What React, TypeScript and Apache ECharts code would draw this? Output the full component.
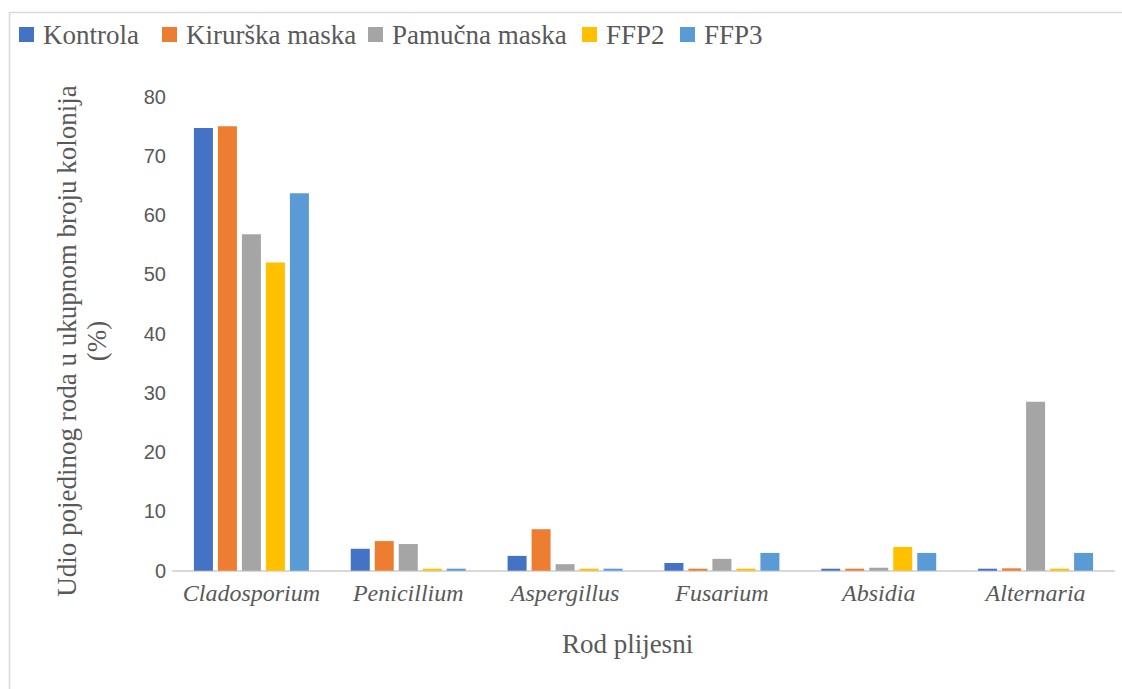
import React, { useEffect, useRef } from "react";
import * as echarts from "echarts";

const categories = ["Cladosporium", "Penicillium", "Aspergillus", "Fusarium", "Absidia", "Alternaria"];
const seriesNames = ["Kontrola", "Kirurška maska", "Pamučna maska", "FFP2", "FFP3"];
const kontrola = [74.7, 3.7, 2.5, 1.3, 0.2, 0.2];
const kirurska = [75.0, 5.0, 7.0, 0.3, 0.1, 0.4];
const pamucna = [56.8, 4.5, 1.1, 2.0, 0.5, 28.5];
const ffp2 = [52.0, 0, 0, 0, 4.0, 0];
const ffp3 = [63.7, 0, 0, 3.0, 3.0, 3.0];
const colors = ["#4472C4", "#ED7D31", "#A5A5A5", "#FFC000", "#5B9BD5"];
const yTicks = { min: 0, max: 80, interval: 10 };

const SERIF = "Liberation Serif, serif";
const SANS = "Liberation Sans";

// legend layout (marker left edges)
const legendX = [19, 162, 368, 582, 680];

export default function App() {
  const ref = useRef<HTMLDivElement>(null);
  useEffect(() => {
    if (!ref.current) return;
    const chart = echarts.init(ref.current, undefined, { renderer: "svg" });
    const values = [kontrola, kirurska, pamucna, ffp2, ffp3];
    const legendGraphics = seriesNames.map((name, i) => ({
      type: "group",
      x: legendX[i],
      y: 27,
      children: [
        { type: "rect", shape: { x: 0, y: 0, width: 15, height: 15 }, style: { fill: colors[i] } },
        {
          type: "text",
          x: 24,
          y: 8,
          style: {
            text: name,
            fontFamily: SERIF,
            fontSize: 27,
            fill: "#595959",
            align: "left",
            verticalAlign: "middle",
          },
        },
      ],
    }));
    chart.setOption({
      animation: false,
      backgroundColor: "#ffffff",
      color: colors,
      textStyle: { fontFamily: SERIF },
      legend: { show: false, data: seriesNames },
      grid: { left: 173, right: 8, top: 96.7, bottom: 118.3, containLabel: false },
      xAxis: {
        type: "category",
        data: categories,
        axisTick: { show: false },
        axisLine: { show: true, lineStyle: { color: "#d9d9d9", width: 2 } },
        axisLabel: {
          interval: 0,
          fontFamily: SERIF,
          fontStyle: "italic",
          fontSize: 24,
          lineHeight: 24,
          color: "#595959",
          margin: 10,
        },
      },
      yAxis: {
        type: "value",
        min: yTicks.min,
        max: yTicks.max,
        interval: yTicks.interval,
        splitLine: { show: false },
        axisLine: { show: false },
        axisTick: { show: false },
        axisLabel: { fontFamily: SANS, fontSize: 20, color: "#595959", margin: 7 },
      },
      series: seriesNames.map((name, i) => ({
        name,
        type: "bar",
        data: values[i],
        barWidth: 19,
        barGap: "26.3%",
        barMinHeight: 2,
        itemStyle: { color: colors[i] },
      })),
      graphic: [
        {
          type: "line",
          silent: true,
          shape: { x1: 9.5, y1: 12.5, x2: 1122, y2: 12.5 },
          style: { stroke: "#d9d9d9", lineWidth: 1.5 },
        },
        {
          type: "line",
          silent: true,
          shape: { x1: 9.5, y1: 12.5, x2: 9.5, y2: 689 },
          style: { stroke: "#d9d9d9", lineWidth: 1.5 },
        },
        ...legendGraphics,
        {
          type: "text",
          x: 82,
          y: 341,
          rotation: Math.PI / 2,
          style: {
            text: "Udio pojedinog roda u ukupnom broju kolonija\n(%)",
            fontFamily: SERIF,
            fontSize: 27,
            lineHeight: 30,
            fill: "#595959",
            align: "center",
            verticalAlign: "middle",
          },
        },
        {
          type: "text",
          x: 627.5,
          y: 644,
          style: {
            text: "Rod plijesni",
            fontFamily: SERIF,
            fontSize: 27,
            fill: "#595959",
            align: "center",
            verticalAlign: "middle",
          },
        },
      ],
    });
    return () => chart.dispose();
  }, []);
  return (
    <div
      ref={ref}
      style={{ position: "fixed", left: 0, top: 0, width: 1122, height: 689, background: "#fff" }}
    />
  );
}
